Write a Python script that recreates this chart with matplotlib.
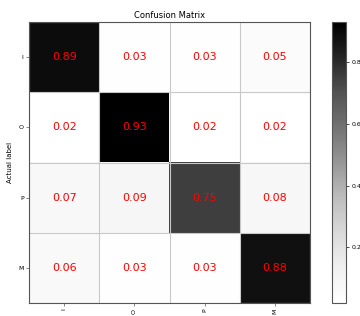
import numpy as np
import matplotlib
matplotlib.use('Agg')
import matplotlib.pyplot as plt

labels = ['I', 'O', 'P', 'M']
cm = np.array([
    [0.89, 0.03, 0.03, 0.05],
    [0.02, 0.93, 0.02, 0.02],
    [0.07, 0.09, 0.75, 0.08],
    [0.06, 0.03, 0.03, 0.88],
])

fig = plt.figure(figsize=(3.6, 3.16), dpi=100)
ax = fig.add_axes([0.081, 0.041, 0.78, 0.889])
cax = fig.add_axes([0.922, 0.041, 0.039, 0.889])

im = ax.imshow(cm, cmap='Greys', aspect='auto')
ax.set_title('Confusion Matrix', fontsize=6, pad=3)
ax.set_ylabel('Actual label', fontsize=5)

ax.set_xticks(np.arange(len(labels)))
ax.set_yticks(np.arange(len(labels)))
ax.set_xticklabels(labels, rotation=90, fontsize=4.5)
ax.set_yticklabels(labels, fontsize=4.5)
ax.tick_params(length=2, width=0.5, color='#555555', pad=2)

ax.set_xticks(np.arange(-0.5, len(labels), 1), minor=True)
ax.set_yticks(np.arange(-0.5, len(labels), 1), minor=True)
ax.tick_params(which='minor', length=0)
ax.grid(which='minor', color='#c8c8c8', linewidth=0.8)
for s in ax.spines.values():
    s.set_color('#555555')
    s.set_linewidth(0.8)

for i in range(len(labels)):
    for j in range(len(labels)):
        ax.text(j, i, '%.2f' % cm[i, j], ha='center', va='center',
                color='red', fontsize=8)

cb = fig.colorbar(im, cax=cax)
cb.set_ticks([0.2, 0.4, 0.6, 0.8])
cb.ax.tick_params(labelsize=4.5, length=2, width=0.5, pad=2)
cb.outline.set_linewidth(0.8)
cb.outline.set_edgecolor('#555555')

fig.savefig('out.png', dpi=100)
